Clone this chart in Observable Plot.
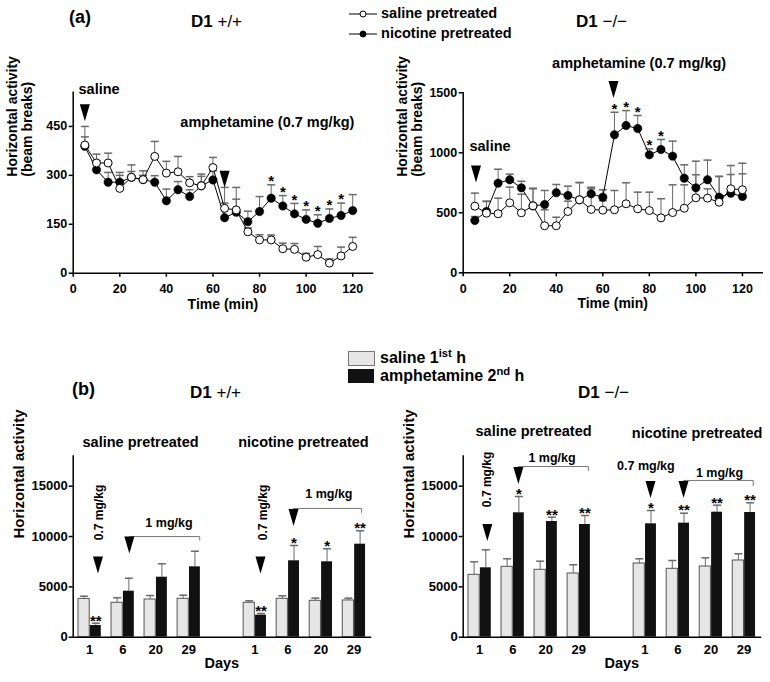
<!DOCTYPE html>
<html><head><meta charset="utf-8">
<script src="https://cdn.jsdelivr.net/npm/d3@7"></script>
<script src="https://cdn.jsdelivr.net/npm/@observablehq/plot@0.6"></script>
<style>
body{margin:0;background:#fff;}
#fig{position:relative;width:770px;height:682px;overflow:hidden;background:#fff;font-family:"Liberation Sans",Arial,Helvetica,sans-serif;font-weight:bold;color:#000;}
.t{position:absolute;white-space:nowrap;line-height:1;}
.n{font-weight:normal;}
sup{font-size:0.7em;vertical-align:0.5em;line-height:0;}
</style></head><body><div id="fig"></div>
<script>
// ---------------- DATA ----------------
const times = [5,10,15,20,25,30,35,40,45,50,55,60,65,70,75,80,85,90,95,100,105,110,115,120];
// (a) D1 +/+  (beam breaks per 5 min)
const wtSalineMean   = [393,338,338,260,294,287,358,307,311,277,268,324,199,194,127,102,102,75,73,49,57,31,53,82];
const wtSalineTop    = [450,365,368,300,332,314,404,343,358,296,297,355,215,263,139,118,117,92,91,61,82,44,80,110];
const wtNicotineMean = [389,317,279,279,294,287,279,222,256,235,268,286,170,187,158,189,230,206,182,165,153,168,177,192];
const wtNicotineTop  = [418,345,309,309,312,300,299,258,281,256,304,314,263,227,190,235,271,238,214,194,179,197,215,241];
const wtStarTimes = [85,90,95,100,105,110,115];
// (a) D1 -/-
const koSalineMean   = [555,497,492,583,500,558,392,392,511,608,528,522,525,575,533,519,458,502,538,625,622,588,700,692];
const koSalineTop    = [664,594,622,714,655,705,525,463,597,752,700,600,686,750,672,672,617,733,733,817,700,803,894,913];
const koNicotineMean = [436,511,747,775,708,558,569,667,644,608,658,630,1150,1227,1202,983,1027,972,788,708,775,630,663,636];
const koNicotineTop  = [469,597,863,822,763,700,686,736,722,752,713,692,1338,1352,1311,1033,1111,1097,900,930,939,803,819,825];
const koStarTimes = [65,70,75,80,85];

// (b) horizontal activity per hour
const days = [1,6,20,29];
const groups = ["saline pretreated","nicotine pretreated"];
const wtSalPre_saline1h = [3800,3420,3745,3814];
const wtSalPre_saline1hTop = [4073,3914,4142,4172];
const wtSalPre_amph2h = [1160,4570,5960,6990];
const wtSalPre_amph2hTop = [1390,5860,7290,8540];
const wtSalPre_stars = ["**","","",""];
const wtNicPre_saline1h = [3420,3814,3616,3650];
const wtNicPre_saline1hTop = [3616,4110,3880,3880];
const wtNicPre_amph2h = [2186,7590,7490,9240];
const wtNicPre_amph2hTop = [2354,9110,8782,10570];
const wtNicPre_stars = ["**","*","*","**"];
const koSalPre_saline1h = [6197,6993,6695,6328];
const koSalPre_saline1hTop = [7490,7788,7550,7192];
const koSalPre_amph2h = [6893,12358,11494,11196];
const koSalPre_amph2hTop = [8682,13977,11921,12090];
const koSalPre_stars = ["","*","**","**"];
const koNicPre_saline1h = [7321,6794,7023,7620];
const koNicPre_saline1hTop = [7788,7620,7887,8285];
const koNicPre_amph2h = [11263,11329,12418,12388];
const koNicPre_amph2hTop = [12586,12320,13113,13351];
const koNicPre_stars = ["*","**","**","**"];

// ---------------- HELPERS ----------------
const FONT = "'Liberation Sans', Arial, Helvetica, sans-serif";
const fig = document.getElementById("fig");
const downTri = {draw(ctx){ctx.moveTo(-5,-8.5);ctx.lineTo(5,-8.5);ctx.lineTo(0,8.5);ctx.closePath();}};
const capSym = {draw(ctx){ctx.moveTo(-4,0);ctx.lineTo(4,0);}};
const ERR = "#6a6a6a";

function put(node, left, top){
  node.style.position = "absolute";
  node.style.left = left + "px";
  node.style.top = top + "px";
  fig.appendChild(node);
}
function label(html, left, cy, size){
  const d = document.createElement("div");
  d.className = "t";
  d.style.fontSize = size + "px";
  d.innerHTML = html;
  put(d, left, cy - size/2);
  return d;
}
const baseStyle = {fontFamily: FONT, fontWeight: "bold", fontSize: "12.5px", color: "#000", background: "transparent", overflow: "visible"};

function timecourse(o){
  const S = times.map((t,i)=>({t, v:o.sal[i], top:o.salTop[i]}));
  const N = times.map((t,i)=>({t, v:o.nic[i], top:o.nicTop[i]}));
  const stars = N.filter(d => o.starTimes.includes(d.t));
  return Plot.plot({
    width: 385, height: 280,
    marginLeft: 72.7, marginRight: o.mr, marginTop: o.mt, marginBottom: 280 - o.mt - o.fh,
    style: baseStyle,
    x: {domain: [0, 128.5]},
    y: {domain: [0, o.yMax]},
    marks: [
      Plot.axisX({ticks: [0,20,40,60,80,100,120], tickSize: 4, tickPadding: 7, label: null, strokeWidth: 1.5}),
      Plot.axisY({ticks: o.yTicks, tickSize: 4, tickPadding: 2, label: null, strokeWidth: 1.5, tickFormat: d => String(d)}),
      Plot.frame({anchor: "left", strokeWidth: 1.5}),
      Plot.frame({anchor: "bottom", strokeWidth: 1.5}),
      Plot.ruleX(N, {x: "t", y1: "v", y2: "top", stroke: ERR}),
      Plot.dot(N, {x: "t", y: "top", symbol: capSym, stroke: ERR, fill: "none"}),
      Plot.ruleX(S, {x: "t", y1: "v", y2: "top", stroke: ERR}),
      Plot.dot(S, {x: "t", y: "top", symbol: capSym, stroke: ERR, fill: "none"}),
      Plot.line(N, {x: "t", y: "v", stroke: "#000", strokeWidth: 1}),
      Plot.line(S, {x: "t", y: "v", stroke: "#000", strokeWidth: 1}),
      Plot.dot(N, {x: "t", y: "v", r: 4.2, fill: "#000", stroke: "#000", strokeWidth: 0.5}),
      Plot.dot(S, {x: "t", y: "v", r: 4, fill: "#fff", stroke: "#000", strokeWidth: 1}),
      Plot.text(stars, {x: "t", y: "top", text: () => "*", dy: -3.5, fontSize: 15}),
      Plot.text(o.notes, {x: "t", y: "v", text: "text", textAnchor: "start", fontSize: 14.5}),
      Plot.dot(o.arrows, {x: "t", y: "v", symbol: downTri, fill: "#000", stroke: "none"}),
      Plot.text(["Horizontal activity\n(beam breaks)"], {frameAnchor: "left", dx: -53.2, dy: -6, rotate: -90, fontSize: 14, lineHeight: 1.07}),
      Plot.text(["Time (min)"], {frameAnchor: "bottom", dy: 35.5, fontSize: 14})
    ]
  });
}

function barPanel(o){
  const rows = [];
  o.sets.forEach((s,g) => days.forEach((d,i) => rows.push({
    slot: g*5 + i, day: d, sal: s.sal[i], salTop: s.salTop[i], amp: s.amp[i], ampTop: s.ampTop[i], star: s.stars[i]
  })));
  const slots = rows.map(d => d.slot);
  const dayOf = new Map(rows.map(d => [d.slot, d.day]));
  return Plot.plot({
    width: 385, height: 262,
    marginLeft: 72.7, marginRight: 15, marginTop: 35.5, marginBottom: 45.3,
    style: baseStyle,
    x: {domain: [-0.5, 8.5]},
    y: {domain: [0, 18000]},
    marks: [
      Plot.axisX({ticks: slots, tickFormat: s => String(dayOf.get(s)), tickSize: 0, tickPadding: 8, label: null, fontSize: 13}),
      Plot.axisY({ticks: [0,5000,10000,15000], tickFormat: d => String(d), tickSize: 4, tickPadding: 1.5, label: null, strokeWidth: 1.5, fontSize: 13}),
      Plot.ruleX(rows, {x: d => d.slot - 0.17, y1: "sal", y2: "salTop", stroke: ERR}),
      Plot.dot(rows, {x: d => d.slot - 0.17, y: "salTop", symbol: capSym, stroke: ERR, fill: "none"}),
      Plot.ruleX(rows, {x: d => d.slot + 0.185, y1: "amp", y2: "ampTop", stroke: ERR}),
      Plot.dot(rows, {x: d => d.slot + 0.185, y: "ampTop", symbol: capSym, stroke: ERR, fill: "none"}),
      Plot.rect(rows, {x1: d => d.slot - 0.34, x2: d => d.slot, y1: 0, y2: "sal", fill: "#e6e6e6", stroke: "#555", strokeWidth: 1}),
      Plot.rect(rows, {x1: d => d.slot + 0.02, x2: d => d.slot + 0.35, y1: 0, y2: "amp", fill: "#111"}),
      Plot.frame({anchor: "left", strokeWidth: 1.5}),
      Plot.frame({anchor: "bottom", strokeWidth: 1.5}),
      Plot.text(rows, {x: d => d.slot + 0.185, y: "ampTop", text: "star", dy: -2.5, fontSize: 15}),
      Plot.text(o.subtitles, {x: "x", y: "y", text: "text", fontSize: 14.5}),
      Plot.text(o.doseV, {x: "x", y: "y", text: "text", rotate: -90, fontSize: 12}),
      Plot.text(o.doseH, {x: "x", y: "y", text: "text", fontSize: 12.5}),
      Plot.line(o.brackets, {x: "x", y: "y", z: "id", stroke: "#777", strokeWidth: 1}),
      Plot.dot(o.arrows, {x: "x", y: "y", symbol: downTri, fill: "#000", stroke: "none"}),
      Plot.text(["Horizontal activity"], {frameAnchor: "left", dx: -54.2, dy: -8, rotate: -90, fontSize: 15}),
      Plot.text(["Days"], {x: () => o.daysX, frameAnchor: "bottom", dy: 30.5, fontSize: 14.5})
    ]
  });
}

// ---------------- PANEL (a) ----------------
put(timecourse({
  sal: wtSalineMean, salTop: wtSalineTop, nic: wtNicotineMean, nicTop: wtNicotineTop, starTimes: wtStarTimes,
  yMax: 555, yTicks: [0,150,300,450], mt: 51.7, fh: 181, mr: 13,
  notes: [{t: 2.3, v: 565, text: "saline"}, {t: 46, v: 461, text: "amphetamine (0.7 mg/kg)"}],
  arrows: [{t: 5, v: 492}, {t: 65, v: 288}]
}), 0, 40);

put(timecourse({
  sal: koSalineMean, salTop: koSalineTop, nic: koNicotineMean, nicTop: koNicotineTop, starTimes: koStarTimes,
  yMax: 1500, yTicks: [0,500,1000,1500], mt: 52.3, fh: 180, mr: 13.3,
  notes: [{t: 2.7, v: 1052, text: "saline"}, {t: 38.2, v: 1742, text: "amphetamine (0.7 mg/kg)"}],
  arrows: [{t: 5.5, v: 823}, {t: 64.6, v: 1527}]
}), 390, 40);

// ---------------- PANEL (b) ----------------
put(barPanel({
  sets: [
    {sal: wtSalPre_saline1h, salTop: wtSalPre_saline1hTop, amp: wtSalPre_amph2h, ampTop: wtSalPre_amph2hTop, stars: wtSalPre_stars},
    {sal: wtNicPre_saline1h, salTop: wtNicPre_saline1hTop, amp: wtNicPre_amph2h, ampTop: wtNicPre_amph2hTop, stars: wtNicPre_stars}
  ],
  subtitles: [{x: 1.54, y: 19342, text: groups[0]}, {x: 6.47, y: 19342, text: groups[1]}],
  doseV: [{x: 0.29, y: 12390, text: "0.7 mg/kg"}, {x: 5.25, y: 12390, text: "0.7 mg/kg"}],
  doseH: [{x: 2.4, y: 11390, text: "1 mg/kg"}, {x: 7.24, y: 14180, text: "1 mg/kg"}],
  arrows: [{x: 0.25, y: 7170}, {x: 1.2, y: 9160}, {x: 5.17, y: 7170}, {x: 6.17, y: 11890}],
  brackets: [
    {id: 1, x: 1.2, y: 10000}, {id: 1, x: 3.33, y: 10000}, {id: 1, x: 3.33, y: 9650},
    {id: 2, x: 6.17, y: 12790}, {id: 2, x: 8.23, y: 12790}, {id: 2, x: 8.23, y: 12390}
  ],
  daysX: 4.0
}), 0, 420);

put(barPanel({
  sets: [
    {sal: koSalPre_saline1h, salTop: koSalPre_saline1hTop, amp: koSalPre_amph2h, ampTop: koSalPre_amph2hTop, stars: koSalPre_stars},
    {sal: koNicPre_saline1h, salTop: koNicPre_saline1hTop, amp: koNicPre_amph2h, ampTop: koNicPre_amph2hTop, stars: koNicPre_stars}
  ],
  subtitles: [{x: 1.63, y: 20435, text: groups[0]}, {x: 6.58, y: 20240, text: groups[1]}],
  doseV: [{x: 0.22, y: 15670, text: "0.7 mg/kg"}],
  doseH: [{x: 2.19, y: 17850, text: "1 mg/kg"}, {x: 5.03, y: 16960, text: "0.7 mg/kg"}, {x: 7.26, y: 16360, text: "1 mg/kg"}],
  arrows: [{x: 0.23, y: 10400}, {x: 1.17, y: 16060}, {x: 5.17, y: 14670}, {x: 6.17, y: 14670}],
  brackets: [
    {id: 1, x: 1.17, y: 16960}, {id: 1, x: 3.29, y: 16960}, {id: 1, x: 3.29, y: 16560},
    {id: 2, x: 6.17, y: 15570}, {id: 2, x: 8.28, y: 15570}, {id: 2, x: 8.28, y: 15070}
  ],
  daysX: 4.3
}), 390, 420);

// ---------------- HEADERS & LEGENDS ----------------
label("(a)", 69, 17, 18);
label('D1 <span class="n">+/+</span>', 191, 21, 17);
label('D1 <span class="n">&minus;/&minus;</span>', 576, 21, 17);
label('<svg width="28" height="10" style="vertical-align:middle"><line x1="0" x2="28" y1="5" y2="5" stroke="#000"/><circle cx="14" cy="5" r="3" fill="#fff" stroke="#000"/></svg> saline pretreated', 349, 13, 14.5);
label('<svg width="28" height="10" style="vertical-align:middle"><line x1="0" x2="28" y1="5" y2="5" stroke="#000"/><circle cx="14" cy="5" r="3" fill="#000" stroke="#000"/></svg> nicotine pretreated', 349, 33, 14.5);

label("(b)", 72, 389, 18);
label('D1 <span class="n">+/+</span>', 190, 392, 17);
label('D1 <span class="n">&minus;/&minus;</span>', 578, 392, 17);
const box1 = document.createElement("div");
Object.assign(box1.style, {width: "25px", height: "13px", background: "#e6e6e6", border: "1px solid #777", boxSizing: "content-box"});
put(box1, 348, 351);
const box2 = document.createElement("div");
Object.assign(box2.style, {width: "26px", height: "14px", background: "#111"});
put(box2, 348, 369);
label("saline 1<sup>ist</sup> h", 380, 358, 16);
label("amphetamine 2<sup>nd</sup> h", 380, 376, 16);
</script></body></html>
